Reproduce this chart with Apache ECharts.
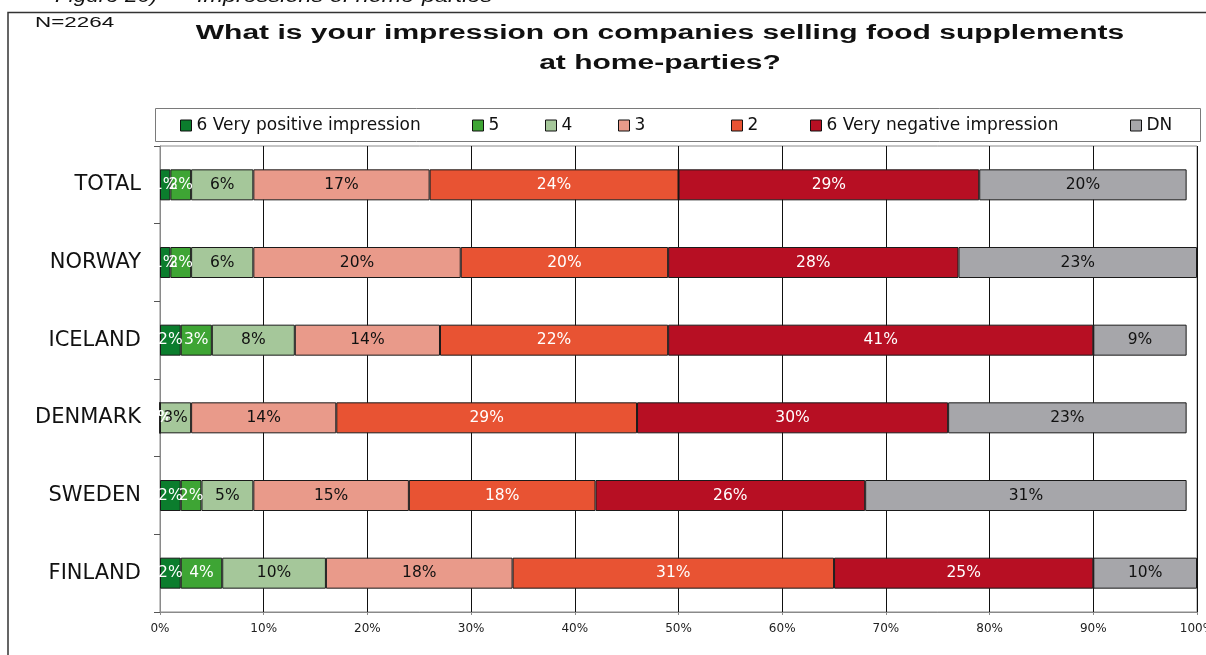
<!DOCTYPE html>
<html>
<head>
<meta charset="utf-8">
<title>Impressions of home-parties</title>
<script src="https://cdn.jsdelivr.net/npm/echarts@6/dist/echarts.min.js"></script>
<style>
  html, body { margin: 0; padding: 0; background: #fff; }
  #chart { width: 1206px; height: 655px; }
</style>
</head>
<body>
<div id="chart"></div>
<script>
// Countries, top to bottom
const countries = ['TOTAL', 'NORWAY', 'ICELAND', 'DENMARK', 'SWEDEN', 'FINLAND'];

// Answer shares in percent, one array per answer option (same order as countries)
const veryPositive = [1, 1, 2, 0, 2, 2];
const five         = [2, 2, 3, 0, 2, 4];
const four         = [6, 6, 8, 3, 5, 10];
const three        = [17, 20, 14, 14, 15, 18];
const two          = [24, 20, 22, 29, 18, 31];
const veryNegative = [29, 28, 41, 30, 26, 25];
const dontKnow     = [20, 23, 9, 23, 31, 10];

const seriesNames = ['6 Very positive impression', '5', '4', '3', '2', '6 Very negative impression', 'DN'];
const seriesData = [veryPositive, five, four, three, two, veryNegative, dontKnow];
const seriesColors = ['#0B7D2D', '#3EA534', '#A5C79A', '#E99A8A', '#E85333', '#B70F23', '#A6A6AA'];
const labelColors = ['#ffffff', '#ffffff', '#111111', '#111111', '#ffffff', '#ffffff', '#111111'];

// Legend x positions for each entry
const legendLeft = [180, 472, 545, 618, 731, 810, 1130];

const xTicks = { min: 0, max: 100, interval: 10 };

const ARIAL = 'Liberation Sans, Arial, sans-serif';
const WIDE = 'DejaVu Sans, Verdana, sans-serif';

const chart = echarts.init(document.getElementById('chart'), null, { renderer: 'canvas' });

const series = seriesNames.map((name, i) => ({
  name: name,
  type: 'bar',
  stack: 'share',
  barWidth: 31,
  data: seriesData[i],
  itemStyle: { color: seriesColors[i], borderColor: '#1a1a1a', borderWidth: 1 },
  label: {
    show: true,
    position: 'inside',
    formatter: p => p.value + '%',
    color: labelColors[i],
    fontFamily: WIDE,
    fontSize: 15.5
  },
  emphasis: { disabled: true }
}));

const legends = seriesNames.map((name, i) => ({
  data: [name],
  left: legendLeft[i],
  top: 117,
  padding: 0,
  icon: 'rect',
  itemWidth: 11,
  itemHeight: 11,
  itemGap: 0,
  itemStyle: { borderColor: '#111', borderWidth: 1 },
  textStyle: { fontFamily: WIDE, fontSize: 17, color: '#111' },
  selectedMode: false
}));

chart.setOption({
  animation: false,
  backgroundColor: '#ffffff',
  legend: legends,
  grid: {
    left: 160, right: 9, top: 146, bottom: 43,
    containLabel: false,
    outerBoundsMode: 'none',
    show: true, borderColor: '#8a8a8a', borderWidth: 1
  },
  xAxis: {
    type: 'value',
    min: xTicks.min, max: xTicks.max, interval: xTicks.interval,
    axisLine: { show: true, lineStyle: { color: '#8a8a8a', width: 1 } },
    axisTick: { show: true, length: 3, lineStyle: { color: '#8a8a8a' } },
    splitLine: { show: true, lineStyle: { color: '#111', width: 1 } },
    axisLabel: { formatter: '{value}%', fontFamily: WIDE, fontSize: 12, color: '#222', margin: 11 }
  },
  yAxis: {
    type: 'category',
    data: countries,
    inverse: true,
    axisLine: { show: true, lineStyle: { color: '#8a8a8a', width: 1 } },
    axisTick: { show: true, length: 6, lineStyle: { color: '#555' } },
    axisLabel: { fontFamily: WIDE, fontSize: 21, color: '#111', margin: 19 }
  },
  graphic: [
    // frame around the figure
    { type: 'polyline', shape: { points: [[8, 655], [8, 12.5], [1206, 12.5]] }, style: { stroke: '#333', lineWidth: 1.5, fill: null }, silent: true },
    // figure caption (wide-set type)
    { type: 'text', x: 55, y: -12, scaleX: 1.25, style: { text: 'Figure 20)', font: 'italic 18px ' + ARIAL, fill: '#111' }, silent: true },
    { type: 'text', x: 197, y: -12, scaleX: 1.3, style: { text: 'Impressions of home-parties', font: 'italic 18px ' + ARIAL, fill: '#111' }, silent: true },
    // sample size
    { type: 'text', x: 35, y: 16, scaleX: 1.6, style: { text: 'N=2264', font: '14px ' + ARIAL, fill: '#111' }, silent: true },
    // title
    { type: 'text', x: 660, y: 18, scaleX: 1.5, style: { text: 'What is your impression on companies selling food supplements\nat home-parties?', font: 'bold 20px ' + ARIAL, fill: '#111', align: 'center', textAlign: 'center', lineHeight: 30 }, silent: true },
    // legend box
    { type: 'rect', shape: { x: 155.5, y: 108.5, width: 1045, height: 33 }, style: { stroke: '#7a7a7a', lineWidth: 1, fill: null }, z: -1, silent: true }
  ],
  series: series
});
</script>
</body>
</html>
